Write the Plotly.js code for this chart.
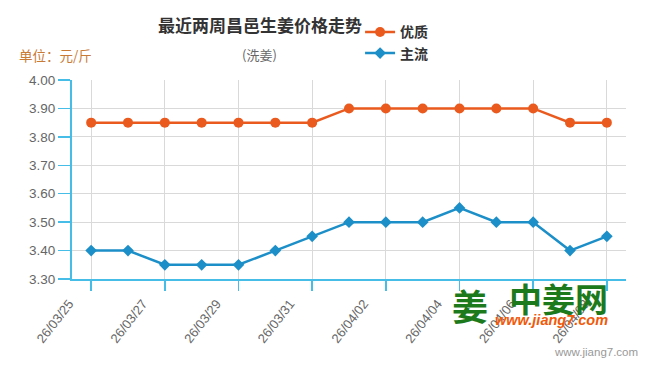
<!DOCTYPE html>
<html>
<head>
<meta charset="utf-8">
<script src="https://cdn.plot.ly/plotly-3.0.1.min.js"></script>
<style>html,body{margin:0;padding:0;background:#fff}#chart{width:650px;height:368px}</style>
</head>
<body>
<div id="chart"></div>
<script>
const dates = ["26/03/25","26/03/26","26/03/27","26/03/28","26/03/29","26/03/30","26/03/31","26/04/01","26/04/02","26/04/03","26/04/04","26/04/05","26/04/06","26/04/07","26/04/08"];
const premium = [3.85,3.85,3.85,3.85,3.85,3.85,3.85,3.90,3.90,3.90,3.90,3.90,3.90,3.85,3.85];
const mainstream = [3.40,3.40,3.35,3.35,3.35,3.40,3.45,3.50,3.50,3.50,3.55,3.50,3.50,3.40,3.45];
const tickDates = ["26/03/25","26/03/27","26/03/29","26/03/31","26/04/02","26/04/04","26/04/06","26/04/08"];
const yTicks = [3.30,3.40,3.50,3.60,3.70,3.80,3.90,4.00];

const font = "Liberation Sans, Arial, 'Noto Sans CJK SC', sans-serif";
const cjk = "'Noto Sans CJK SC', 'Liberation Sans', sans-serif";
const axisColor = "#45bde6";

const traces = [
  {x: dates, y: premium, name: "优质", type: "scatter", mode: "lines+markers",
   line: {color: "#ea5a1e", width: 2.5}, marker: {symbol: "circle", size: 10, color: "#ea5a1e"}},
  {x: dates, y: mainstream, name: "主流", type: "scatter", mode: "lines+markers",
   line: {color: "#1c8fc8", width: 2.5}, marker: {symbol: "diamond", size: 9, color: "#1c8fc8"}}
];

const layout = {
  width: 650, height: 368,
  margin: {l: 72, r: 24, t: 80, b: 89, autoexpand: false},
  paper_bgcolor: "#fff", plot_bgcolor: "#fff",
  showlegend: true,
  legend: {x: 0.52, y: 1.32, xanchor: "left", yanchor: "top", orientation: "v",
    font: {family: cjk, size: 14, color: "#333", weight: "bold"}, itemwidth: 30, tracegroupgap: 0,
    bgcolor: "rgba(0,0,0,0)"},
  xaxis: {type: "category", categoryorder: "array", categoryarray: dates,
    range: [-0.52, 14.52], tickmode: "array", tickvals: tickDates, ticktext: tickDates,
    tickangle: -52, ticks: "outside", ticklen: 10, tickcolor: axisColor, tickwidth: 1.5,
    ticklabelshift: -22,
    showline: true, linecolor: axisColor, linewidth: 2,
    showgrid: true, gridcolor: "#d9d9d9", gridwidth: 1, zeroline: false,
    tickfont: {family: font, size: 13, color: "#666"}},
  yaxis: {range: [3.3, 4.0], tickmode: "array", tickvals: yTicks, tickformat: ".2f",
    ticks: "outside", ticklen: 12, tickcolor: axisColor, tickwidth: 1.5,
    showline: true, linecolor: axisColor, linewidth: 2,
    showgrid: true, gridcolor: "#d9d9d9", gridwidth: 1, zeroline: false,
    tickfont: {family: font, size: 13.5, color: "#666"}},
  annotations: [
    {text: "<b>最近两周昌邑生姜价格走势</b>", xref: "paper", yref: "paper", x: 0.339, y: 1.28,
     xanchor: "center", yanchor: "middle", showarrow: false, font: {family: cjk, size: 17, color: "#333"}},
    {text: "(洗姜)", xref: "paper", yref: "paper", x: 0.339, y: 1.126,
     xanchor: "center", yanchor: "middle", showarrow: false, font: {family: cjk, size: 13, color: "#666"}},
    {text: "单位：元/斤", xref: "paper", yref: "paper", x: -0.1, y: 1.126,
     xanchor: "left", yanchor: "middle", showarrow: false, font: {family: cjk, size: 13.5, color: "#c97a35"}},
    {text: "<b>姜</b>", xref: "paper", yref: "paper", x: 0.718, y: -0.131,
     xanchor: "center", yanchor: "middle", showarrow: false, font: {family: cjk, size: 36, color: "#1c7a1c"}},
    {text: "<b>中姜网</b>", xref: "paper", yref: "paper", x: 0.878, y: -0.095,
     xanchor: "center", yanchor: "middle", showarrow: false, font: {family: cjk, size: 33, color: "#1c7a1c"}},
    {text: "<b><i>www.jiang7.com</i></b>", xref: "paper", yref: "paper", x: 0.866, y: -0.206,
     xanchor: "center", yanchor: "middle", showarrow: false, font: {family: font, size: 14.5, color: "#f05a0a"}},
    {text: "www.jiang7.com", xref: "paper", yref: "paper", x: 1.025, y: -0.367,
     xanchor: "right", yanchor: "middle", showarrow: false, font: {family: font, size: 11.5, color: "#999"}}
  ]
};

Plotly.newPlot("chart", traces, layout, {displayModeBar: false, staticPlot: true});
</script>
</body>
</html>
